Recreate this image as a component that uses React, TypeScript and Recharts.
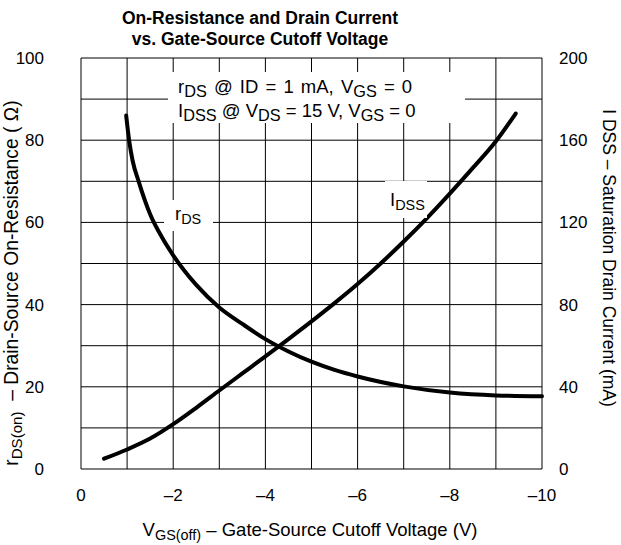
import { LineChart, Line, XAxis, YAxis, CartesianGrid } from 'recharts'

// V_GS(off) in volts, r_DS in ohms (left axis)
const rdsVolts = [-0.98, -1.05, -1.12, -1.25, -1.5, -1.75, -2, -2.5, -3, -3.5, -4, -4.5, -5, -5.5, -6, -7, -8, -9, -10]
const rdsOhms = [86, 79.5, 75, 70, 62, 56.5, 52, 44.8, 39.3, 35.3, 31.6, 28.6, 26.1, 24.1, 22.5, 20.1, 18.6, 17.9, 17.7]

// I_DSS in mA (right axis)
const idssVolts = [-0.5, -1, -1.5, -2, -2.5, -3, -3.5, -4, -4.5, -5, -5.5, -6, -6.5, -7, -7.5, -8, -8.5, -9, -9.43]
const idssMilliAmps = [5, 9.5, 14.8, 21.8, 29.8, 38.2, 46.5, 54.8, 63.2, 71.8, 80.7, 90, 100, 110.7, 122, 134, 146.5, 159.5, 173]

const xTicks = [0, -1, -2, -3, -4, -5, -6, -7, -8, -9, -10]
const leftTicks = [0, 10, 20, 30, 40, 50, 60, 70, 80, 90, 100]
const rightTicks = [0, 40, 80, 120, 160, 200]

const rdsData = rdsVolts.map((v, i) => ({ v, r: rdsOhms[i] }))
const idssData = idssVolts.map((v, i) => ({ v, id: idssMilliAmps[i] }))

const font = '"Liberation Sans", Arial, Helvetica, sans-serif'
const tickStyle = { fill: '#000', fontSize: 17, fontFamily: font }
const sub = { fontSize: '0.78em', verticalAlign: '-0.26em' }
const boxSub = { fontSize: '0.88em', verticalAlign: '-0.24em' }

const fmtVolt = (v: number) => (v % 2 !== 0 ? '' : v === 0 ? '0' : `\u2013${Math.abs(v)}`)
const fmtLeft = (v: number) => (v % 20 !== 0 ? '' : String(v))

export default function App() {
  return (
    <div style={{ position: 'relative', width: 621, height: 545, background: '#fff', fontFamily: font, color: '#000' }}>
      <style>{'body{margin:0}'}</style>
      <LineChart width={621} height={545} margin={{ top: 58, right: 0, bottom: 0, left: 0 }}>
        <CartesianGrid stroke="#000" strokeWidth={1} yAxisId="left" />
        <XAxis
          type="number"
          dataKey="v"
          domain={[-10, 0]}
          reversed
          ticks={xTicks}
          tickFormatter={fmtVolt}
          tick={tickStyle}
          tickLine={false}
          axisLine={false}
          tickMargin={14}
          height={76}
          interval={0}
          allowDuplicatedCategory={false}
        />
        <YAxis
          yAxisId="left"
          domain={[0, 100]}
          ticks={leftTicks}
          tickFormatter={fmtLeft}
          tick={{ ...tickStyle, textAnchor: 'end', dx: -9 }}
          tickLine={false}
          axisLine={false}
          tickMargin={22}
          width={81}
          interval={0}
        />
        <YAxis
          yAxisId="right"
          orientation="right"
          domain={[0, 200]}
          ticks={rightTicks}
          tick={{ ...tickStyle, textAnchor: 'start' }}
          tickLine={false}
          axisLine={false}
          tickMargin={11}
          width={79}
          interval={0}
        />
        <Line
          yAxisId="left"
          data={rdsData}
          dataKey="r"
          type="monotone"
          stroke="#000"
          strokeWidth={4}
          strokeLinecap="round"
          dot={false}
          isAnimationActive={false}
        />
        <Line
          yAxisId="right"
          data={idssData}
          dataKey="id"
          type="monotone"
          stroke="#000"
          strokeWidth={4}
          strokeLinecap="round"
          dot={false}
          isAnimationActive={false}
        />
      </LineChart>

      {/* title */}
      <div style={{ position: 'absolute', left: 260, top: 8, transform: 'translateX(-50%)', textAlign: 'center', fontWeight: 'bold', fontSize: 17.5, lineHeight: '21px', whiteSpace: 'nowrap' }}>
        On-Resistance and Drain Current
        <br />
        vs. Gate-Source Cutoff Voltage
      </div>

      {/* conditions box */}
      <div style={{ position: 'absolute', left: 168, top: 72, width: 297, height: 51, background: '#fff' }}>
        <div style={{ position: 'absolute', left: 10, top: 5, fontSize: 18.5, lineHeight: '19px', whiteSpace: 'nowrap' }}>
          <span style={{ wordSpacing: 2 }}>
            r<span style={boxSub}>DS</span> @ ID = 1 mA, V<span style={boxSub}>GS</span> = 0
          </span>
          <br />
          I<span style={boxSub}>DSS</span> @ V<span style={boxSub}>DS</span> = 15 V, V<span style={boxSub}>GS</span> = 0
        </div>
      </div>

      {/* curve labels */}
      <div style={{ position: 'absolute', left: 164, top: 200, width: 49, height: 31, background: '#fff' }}>
        <div style={{ position: 'absolute', left: 11, top: 4, fontSize: 18.5, lineHeight: '20px' }}>
          r<span style={sub}>DS</span>
        </div>
      </div>
      <div style={{ position: 'absolute', left: 385, top: 181, width: 42, height: 37, background: '#fff' }}>
        <div style={{ position: 'absolute', left: 5, top: 9, fontSize: 18.5, lineHeight: '20px' }}>
          I<span style={sub}>DSS</span>
        </div>
      </div>

      {/* axis titles */}
      <div style={{ position: 'absolute', left: 310, top: 531, transform: 'translate(-50%,-50%)', fontSize: 18.5, whiteSpace: 'nowrap' }}>
        V<span style={sub}>GS(off)</span> – Gate-Source Cutoff Voltage (V)
      </div>
      <div style={{ position: 'absolute', left: 13, top: 283, transform: 'translate(-50%,-50%) rotate(-90deg)', fontSize: 19.3, whiteSpace: 'nowrap' }}>
        r<span style={sub}>DS(on)</span> &nbsp;– Drain-Source On-Resistance ( Ω)
      </div>
      <div style={{ position: 'absolute', left: 608, top: 258, transform: 'translate(-50%,-50%) rotate(90deg)', fontSize: 17.5, whiteSpace: 'nowrap' }}>
        I DSS – Saturation Drain Current (mA)
      </div>
    </div>
  )
}
